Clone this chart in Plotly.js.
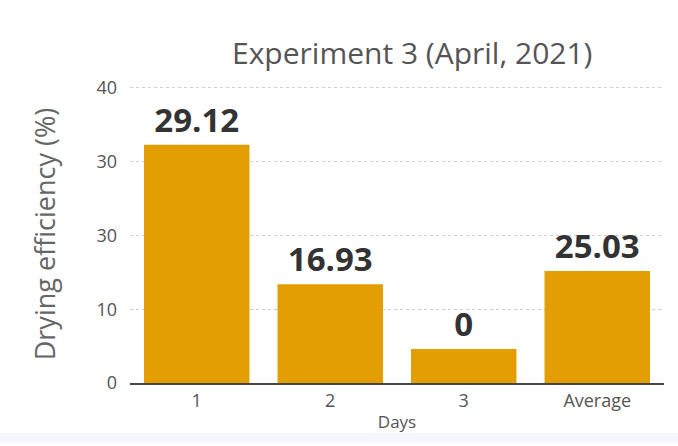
<!DOCTYPE html>
<html><head><meta charset="utf-8">
<script src="https://cdn.plot.ly/plotly-3.0.1.min.js"></script>
<style>html,body{margin:0;padding:0;background:#fff;}#chart{width:678px;height:446px;}</style>
</head><body><div id="chart"></div>
<script>
const categories = ['1', '2', '3', 'Average'];
const barHeights = [32.3, 13.4, 4.6, 15.2];
const barLabels = ['29.12', '16.93', '0', '25.03'];
const yTickVals = [0, 10, 20, 30, 40];
const yTickText = ['0', '10', '30', '30', '40'];

const trace = {
  type: 'bar', x: categories, y: barHeights, text: barLabels,
  textposition: 'outside', cliponaxis: false,
  textfont: {family: 'Open Sans', size: 33, color: '#333333', weight: 'bold'},
  marker: {color: '#E39E03'}, hoverinfo: 'none'
};
const layout = {
  width: 678, height: 446,
  margin: {l: 130, r: 14, t: 85, b: 63},
  paper_bgcolor: '#ffffff', plot_bgcolor: '#ffffff',
  bargap: 0.21, showlegend: false,
  title: {text: 'Experiment 3 (April, 2021)', x: 0.608, xanchor: 'center', y: 0.88, yanchor: 'middle',
    font: {family: 'Open Sans', size: 30, color: '#555555'}},
  xaxis: {type: 'category', showline: true, linecolor: '#444', linewidth: 2, ticks: '',
    tickfont: {family: 'Open Sans', size: 18, color: '#555'},
    title: {text: 'Days', font: {family: 'Open Sans', size: 17, color: '#555'}, standoff: 6}},
  yaxis: {range: [0, 40.4], tickvals: yTickVals, ticktext: yTickText, showgrid: true,
    gridcolor: '#cfcfcf', griddash: 'dot', zeroline: false, ticks: '', ticklabelstandoff: 12,
    tickfont: {family: 'Open Sans', size: 18, color: '#555'},
    title: {text: 'Drying efficiency (%)', font: {family: 'Open Sans', size: 27, color: '#666'}, standoff: 32}},
  shapes: [{type: 'rect', xref: 'paper', yref: 'paper', x0: -0.3, x1: 1.1, y0: -0.2, y1: -0.168,
    fillcolor: '#f6f7fb', line: {width: 0}, layer: 'below'}]
};
Plotly.newPlot('chart', [trace], layout, {displayModeBar: false, staticPlot: true});
</script></body></html>
